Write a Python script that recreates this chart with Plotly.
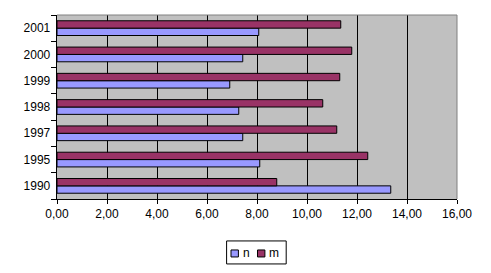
import plotly.graph_objects as go

years = ["1990", "1995", "1997", "1998", "1999", "2000", "2001"]
n_vals = [13.35, 8.11, 7.43, 7.27, 6.91, 7.43, 8.07]
m_vals = [8.79, 12.43, 11.19, 10.63, 11.31, 11.79, 11.35]
x_ticks = [0, 2, 4, 6, 8, 10, 12, 14, 16]
x_labels = ["0,00", "2,00", "4,00", "6,00", "8,00", "10,00", "12,00", "14,00", "16,00"]
series_names = ["n", "m"]
series_colors = ["#9999FF", "#993366"]

fig = go.Figure()
fig.add_trace(go.Bar(y=years, x=n_vals, name=series_names[0], orientation="h",
                     marker=dict(color=series_colors[0], line=dict(color="black", width=1))))
fig.add_trace(go.Bar(y=years, x=m_vals, name=series_names[1], orientation="h",
                     marker=dict(color=series_colors[1], line=dict(color="black", width=1))))

FONT = "Liberation Sans, Arial, sans-serif"

# Custom compact legend (Excel style)
shapes = [
    dict(type="line", xref="paper", yref="paper", x0=0, x1=1, y0=1, y1=1,
         line=dict(color="#808080", width=1), layer="above"),
    dict(type="line", xref="paper", yref="paper", x0=1, x1=1, y0=0, y1=1,
         line=dict(color="#808080", width=1), layer="above"),
    dict(type="rect", xref="paper", yref="paper", x0=0.424, x1=0.573, y0=-0.353, y1=-0.228,
         line=dict(color="black", width=1), fillcolor="white", layer="above"),
]
annotations = []
sq_x = [0.435, 0.50125]
txt_x = [0.4625, 0.5275]
for i in range(2):
    shapes.append(dict(type="rect", xref="paper", yref="paper",
                       x0=sq_x[i], x1=sq_x[i] + 0.0185, y0=-0.315, y1=-0.277,
                       line=dict(color="black", width=1), fillcolor=series_colors[i],
                       layer="above"))
    annotations.append(dict(xref="paper", yref="paper", x=txt_x[i], y=-0.296,
                            xanchor="left", yanchor="middle", showarrow=False,
                            text=series_names[i], borderpad=0,
                            font=dict(family=FONT, size=12, color="black")))

fig.update_layout(
    width=491, height=273,
    margin=dict(l=57, r=34, t=15, b=74, autoexpand=False),
    paper_bgcolor="white", plot_bgcolor="#C0C0C0",
    barmode="group", bargap=0.44, bargroupgap=0,
    font=dict(family=FONT, size=12, color="#000000"),
    showlegend=False,
    xaxis=dict(range=[0, 16], tickvals=x_ticks, ticktext=x_labels,
               showgrid=True, gridcolor="black", gridwidth=1,
               showline=True, linecolor="black", linewidth=1,
               ticks="outside", ticklen=4, tickcolor="black",
               zeroline=False, fixedrange=True),
    yaxis=dict(type="category", categoryorder="array", categoryarray=years,
               showline=True, linecolor="black", linewidth=1,
               ticks="outside", ticklen=5, tickcolor="black", tickson="boundaries",
               showgrid=False, zeroline=False, ticksuffix=" "),
    shapes=shapes,
    annotations=annotations,
)

fig.write_html("out.html")
